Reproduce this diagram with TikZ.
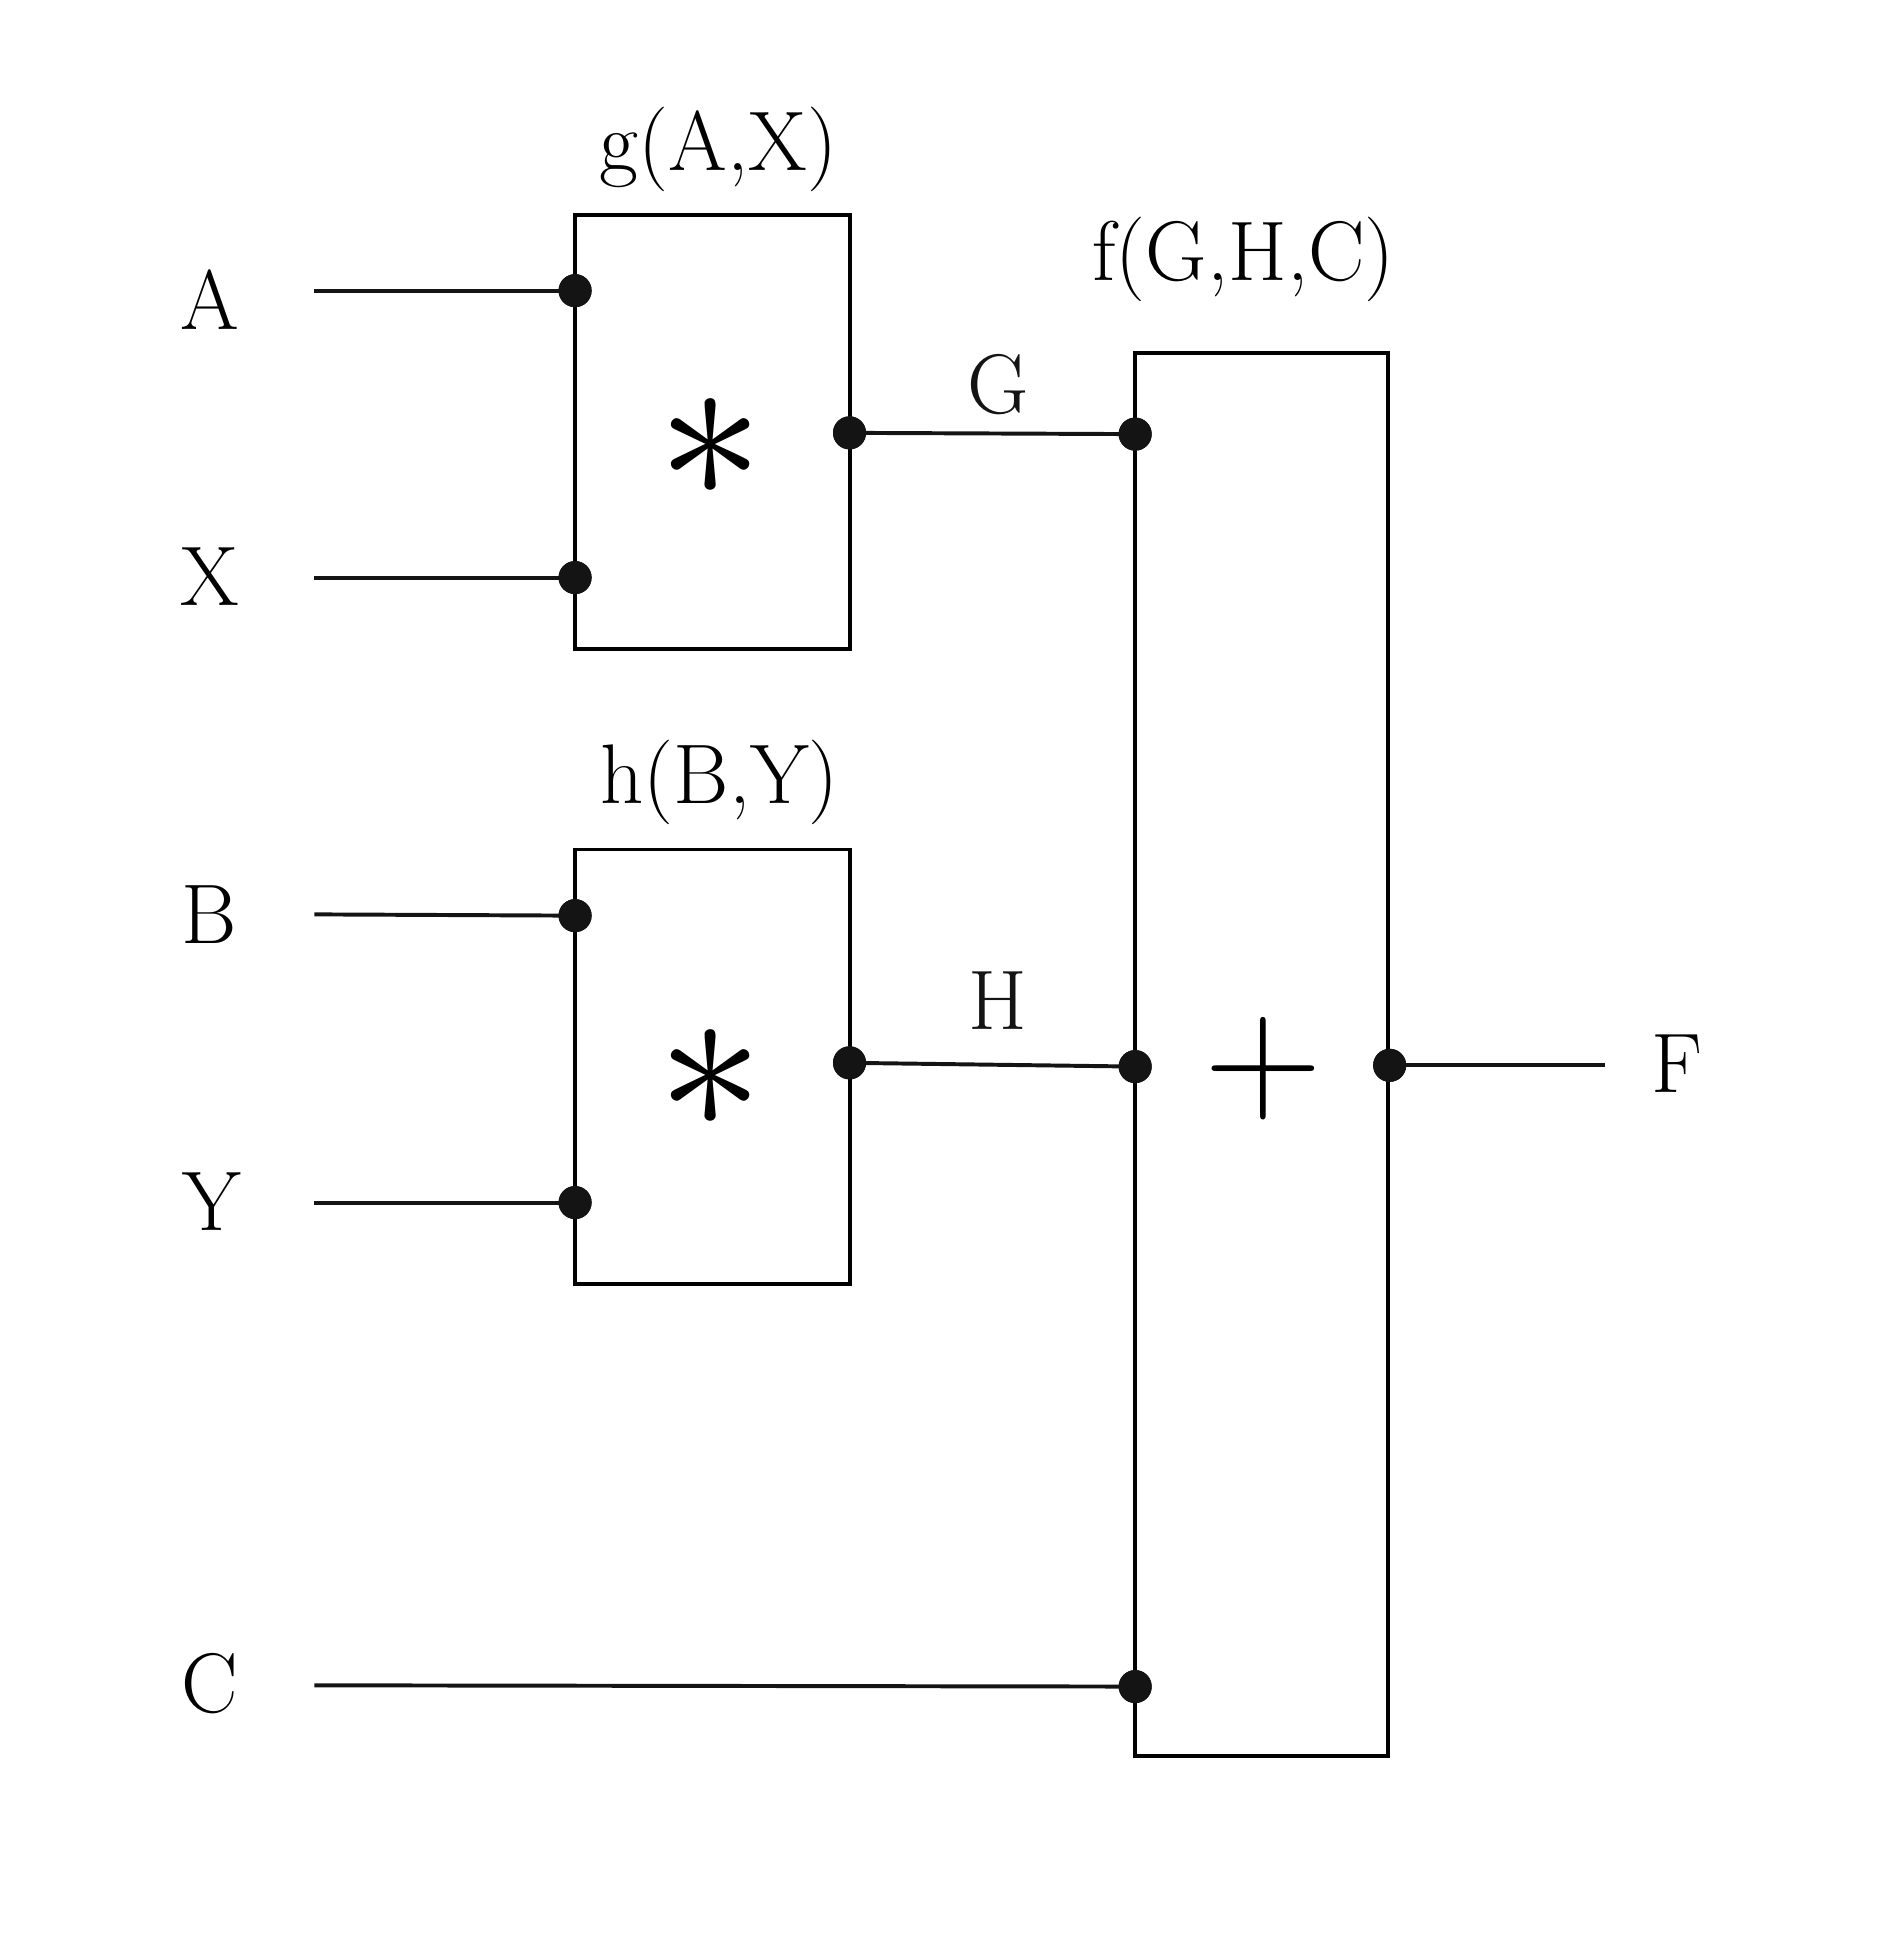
\documentclass[tikz,border=0pt]{standalone}
\usepackage{tikz}
\usepackage{graphicx}
\usetikzlibrary{positioning}

\begin{document}
\begin{tikzpicture}[x=1cm,y=1cm,line width=0.9pt,
    blk/.style={draw,line width=0.9pt,inner sep=0pt},
    port/.style={circle,fill=black!92,inner sep=0pt,minimum size=0.265cm},
    lbl/.style={font=\fontsize{19.3}{23}\selectfont,inner sep=1pt},
    wire/.style={line width=0.9pt,black!92}]
  \useasboundingbox (0,0) rectangle (15.15,-15.68);

  \node[blk,minimum width=2.2cm,minimum height=3.48cm] (g) at (5.71,-3.46) {};
  \node[blk,minimum width=2.2cm,minimum height=3.48cm] (h) at (5.71,-8.55) {};
  \node[blk,minimum width=2.03cm,minimum height=11.25cm] (f) at (10.115,-8.455) {};

  \node[font=\fontsize{24.88}{30}\selectfont] (gop) at (5.70,-3.59) {\scalebox{1.95}{$\ast$}};
  \node[font=\fontsize{24.88}{30}\selectfont] (hop) at (5.70,-8.65) {\scalebox{1.95}{$\ast$}};
  \node[font=\fontsize{24.88}{30}\selectfont] (fop) at (10.13,-8.57) {\scalebox{1.5}{$+$}};

  \node[lbl] (gname) at (5.76,-1.20) {g(A,X)};
  \node[lbl] (hname) at (5.77,-6.27) {h(B,Y)};
  \node[lbl] (fname) at (9.97,-2.08) {f(G,H,C)};

  \node[lbl] (la) at (1.68,-2.40) {A};
  \node[lbl] (lx) at (1.68,-4.62) {X};
  \node[lbl] (lb) at (1.68,-7.33) {B};
  \node[lbl] (ly) at (1.70,-9.63) {Y};
  \node[lbl] (lc) at (1.68,-13.50) {C};
  \node[lbl] (lf) at (13.44,-8.53) {F};

  \coordinate (a0) at (2.52,-2.33);
  \coordinate (x0) at (2.52,-4.63);
  \coordinate (b0) at (2.52,-7.33);
  \coordinate (y0) at (2.52,-9.64);
  \coordinate (c0) at (2.52,-13.51);
  \coordinate (f0) at (12.87,-8.54);

  \node[port] (ga) at (4.61,-2.33) {};
  \node[port] (gx) at (4.61,-4.63) {};
  \node[port] (go) at (6.81,-3.47) {};
  \node[port] (hb) at (4.61,-7.34) {};
  \node[port] (hy) at (4.61,-9.64) {};
  \node[port] (ho) at (6.81,-8.52) {};
  \node[port] (fg) at (9.10,-3.48) {};
  \node[port] (fh) at (9.10,-8.55) {};
  \node[port] (fc) at (9.10,-13.52) {};
  \node[port] (fo) at (11.14,-8.54) {};

  \draw[wire] (a0) -- (ga.center);
  \draw[wire] (x0) -- (gx.center);
  \draw[wire] (b0) -- (hb.center);
  \draw[wire] (y0) -- (hy.center);
  \draw[wire] (c0) -- (fc.center);
  \draw[wire] (go.center) -- node[lbl,above=0.1cm,pos=0.52] (lg) {G} (fg.center);
  \draw[wire] (ho.center) -- node[lbl,above=0.23cm,pos=0.52] (lh) {H} (fh.center);
  \draw[wire] (fo.center) -- (f0);

  % redraw ports on top of the wires
  \foreach \p in {ga,gx,go,hb,hy,ho,fg,fh,fc,fo}
    \fill[black!92] (\p) circle[radius=0.1325cm];
\end{tikzpicture}
\end{document}
